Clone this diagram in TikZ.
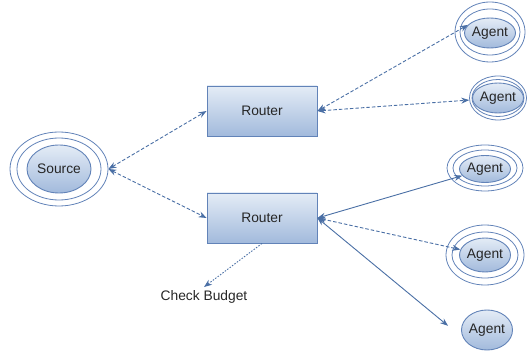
\documentclass[tikz,border=0pt]{standalone}
\usepackage{fontspec}
\setmainfont{Liberation Sans}
\usepackage{tikz}
\usetikzlibrary{arrows.meta,shapes}

\definecolor{linkblue}{HTML}{4A6FA5}
\definecolor{ringblue}{HTML}{6283B8}
\definecolor{shadetop}{HTML}{E4ECF6}
\definecolor{shadebot}{HTML}{A2BADC}

\begin{document}
\begin{tikzpicture}[x=1pt,y=-1pt,font=\fontsize{13.8}{16}\selectfont,
		boxed/.style={draw=ringblue,line width=0.9pt,top color=shadetop,bottom color=shadebot,text=black!85},
		router/.style={boxed,rectangle,minimum width=110pt,minimum height=50pt,inner sep=0pt},
		agent/.style={boxed,ellipse,inner sep=0pt},
		ring/.style={draw=ringblue,line width=0.8pt,ellipse,inner sep=0pt},
		link/.style={color=linkblue,line width=0.9pt,{Stealth[length=8pt,width=6pt]}-{Stealth[length=8pt,width=6pt]}},
		dashline/.style={dash pattern=on 3.5pt off 2pt},
		dotline/.style={dash pattern=on 1.5pt off 1.5pt}]
		\useasboundingbox (0,0) rectangle (529,352);
		%
		% source and its rings
		\node[ring,minimum width=98pt,minimum height=74pt] (src-o) at (59,169) {};
		\node[ring,minimum width=84pt,minimum height=62pt] (src-m) at (59,169) {};
		\node[agent,minimum width=64pt,minimum height=48pt] (src) at (59,169) {Source};
		%
		\node[router] (rtA) at (262,111) {Router};
		\node[router] (rtB) at (262,218) {Router};
		\node[text=black!85] (budget) at (204,297) {Check Budget};
		%
		% agents
		\node[ring,minimum width=70pt,minimum height=60pt] (agA-o) at (490,32) {};
		\node[ring,minimum width=60pt,minimum height=46pt] (agA-m) at (490,32) {};
		\node[agent,minimum width=48pt,minimum height=30pt] (agA) at (490,33) {Agent};
		\node[ring,minimum width=57pt,minimum height=44pt] (agB-o) at (498,98) {};
		\node[ring,minimum width=52pt,minimum height=37pt] (agB-m) at (498,98) {};
		\node[agent,minimum width=46pt,minimum height=30pt] (agB) at (498,98) {Agent};
		\node[ring,minimum width=76pt,minimum height=46pt] (agC-o) at (485,168) {};
		\node[ring,minimum width=64pt,minimum height=36pt] (agC-m) at (485,168) {};
		\node[agent,minimum width=48pt,minimum height=27pt] (agC) at (485,169) {Agent};
		\node[ring,minimum width=78pt,minimum height=60pt] (agD-o) at (485,255) {};
		\node[ring,minimum width=66pt,minimum height=46pt] (agD-m) at (485,255) {};
		\node[agent,minimum width=50pt,minimum height=34pt] (agD) at (485,255) {Agent};
		\node[agent,minimum width=50pt,minimum height=40pt] (agE) at (487,330) {Agent};
		%
		\path[link]
		% source to the routers
		(src-o.east) edge[dashline] (rtA.west)
		(src-o.east) edge[dashline] (rtB.west)
		% upper router
		(rtA.east) edge[dashline] (agA.160)
		(rtA.east) edge[dashline] (agB-o)
		% lower router
		(rtB.east) edge (agC)
		(rtB.east) edge[dashline] (agD)
		(rtB.east) edge[shorten >=20pt] (agE.200);
		\path[link,-{Stealth[length=8pt,width=6pt]}]
		(rtB.south) edge[dotline] (budget.north);
		\end{tikzpicture}
\end{document}
